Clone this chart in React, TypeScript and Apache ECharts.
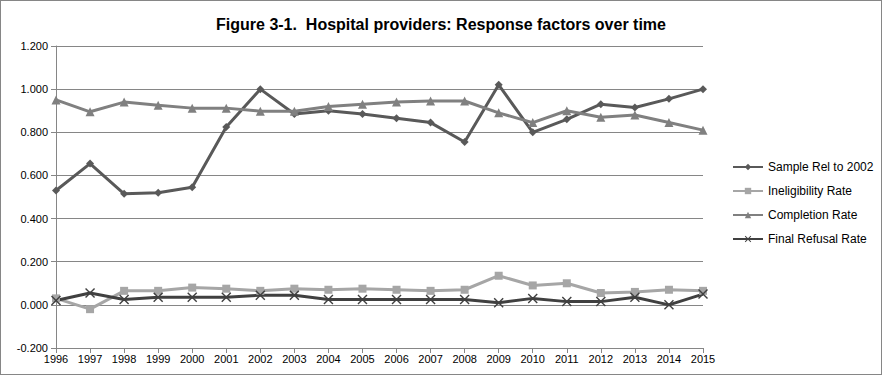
import React, { useEffect, useRef } from "react";
import * as echarts from "echarts";

const years = ["1996","1997","1998","1999","2000","2001","2002","2003","2004","2005","2006","2007","2008","2009","2010","2011","2012","2013","2014","2015"];
const sampleRel = [0.53,0.655,0.515,0.52,0.545,0.825,1.0,0.885,0.9,0.885,0.865,0.845,0.755,1.02,0.8,0.86,0.93,0.915,0.955,1.0];
const ineligibility = [0.03,-0.02,0.065,0.065,0.08,0.075,0.065,0.075,0.07,0.075,0.07,0.065,0.07,0.135,0.09,0.1,0.055,0.06,0.07,0.065];
const completion = [0.95,0.895,0.94,0.925,0.912,0.912,0.898,0.898,0.92,0.93,0.94,0.945,0.945,0.89,0.845,0.9,0.87,0.88,0.845,0.81];
const finalRefusal = [0.02,0.055,0.025,0.035,0.035,0.035,0.045,0.045,0.025,0.025,0.025,0.025,0.025,0.01,0.03,0.015,0.015,0.035,0.0,0.05];

const FONT = "'Liberation Sans', Arial, sans-serif";
const xSymbol = "path://M0,1L1,0L5,4L9,0L10,1L6,5L10,9L9,10L5,6L1,10L0,9L4,5Z";

export default function App() {
  const ref = useRef<HTMLDivElement>(null);
  useEffect(() => {
    const chart = echarts.init(ref.current!, null, { renderer: "svg" });
    const mk = (name: string, data: number[], color: string, symbol: string, size: number) => ({
      name,
      type: "line",
      data,
      symbol,
      symbolSize: size,
      lineStyle: { color, width: 3 },
      itemStyle: { color },
      z: 3,
    });
    chart.setOption({
      animation: false,
      backgroundColor: "#fff",
      title: {
        text: "Figure 3-1.  Hospital providers: Response factors over time",
        left: "center",
        top: 10,
        textStyle: { fontFamily: FONT, fontSize: 16, fontWeight: "bold", color: "#000" },
      },
      grid: { left: 55, right: 178, top: 45, bottom: 26 },
      legend: {
        orient: "vertical",
        left: 726,
        top: 155,
        itemWidth: 30,
        itemHeight: 8,
        itemGap: 12,
        textStyle: { fontFamily: FONT, fontSize: 12, color: "#000" },
        data: ["Sample Rel to 2002", "Ineligibility Rate", "Completion Rate", "Final Refusal Rate"],
      },
      xAxis: {
        type: "category",
        data: years,
        boundaryGap: false,
        axisLine: { onZero: false, lineStyle: { color: "#868686" } },
        axisTick: { show: true, length: 5, alignWithLabel: true, lineStyle: { color: "#868686" } },
        axisLabel: { fontFamily: FONT, fontSize: 11, color: "#000", margin: 5, interval: 0 },
        splitLine: { show: false },
      },
      yAxis: {
        type: "value",
        min: -0.2,
        max: 1.2,
        interval: 0.2,
        axisLine: { show: true, lineStyle: { color: "#868686" } },
        axisTick: { show: true, length: 5, lineStyle: { color: "#868686" } },
        axisLabel: { fontFamily: FONT, fontSize: 11, color: "#000", margin: 8, formatter: (v: number) => v.toFixed(3) },
        splitLine: { lineStyle: { color: "#868686", width: 1 } },
      },
      series: [
        mk("Sample Rel to 2002", sampleRel, "#595959", "diamond", 8),
        mk("Ineligibility Rate", ineligibility, "#A6A6A6", "rect", 8),
        mk("Completion Rate", completion, "#808080", "triangle", 9),
        mk("Final Refusal Rate", finalRefusal, "#404040", xSymbol, 10),
      ],
    });
    return () => chart.dispose();
  }, []);
  return (
    <div
      ref={ref}
      style={{ position: "fixed", left: 0, top: 0, width: 882, height: 375, boxSizing: "border-box", border: "1px solid #868686", background: "#fff" }}
    />
  );
}
